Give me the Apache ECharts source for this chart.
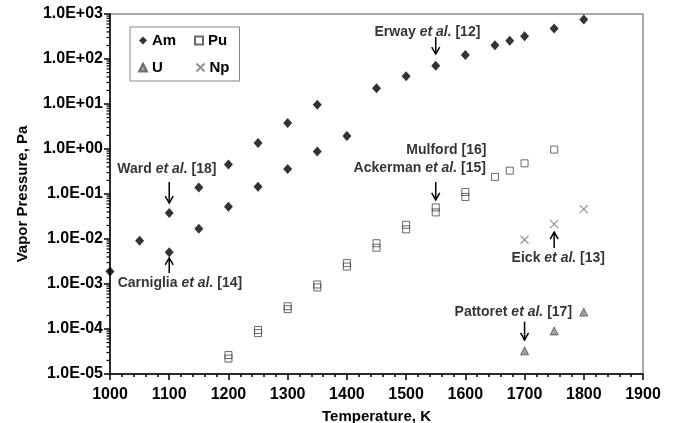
<!DOCTYPE html>
<html>
<head>
<meta charset="utf-8">
<script src="https://cdn.jsdelivr.net/npm/echarts@6/dist/echarts.min.js"></script>
<style>html,body{margin:0;padding:0;background:#fff}#c{width:674px;height:423px}</style>
</head>
<body>
<div id="c"></div>
<script>
// ---- data ----
const amT = [1000, 1050, 1100, 1100, 1150, 1150, 1200, 1200, 1250, 1250, 1300, 1300, 1350, 1350, 1400, 1450, 1500, 1550, 1600, 1650, 1675, 1700, 1750, 1800];
const amP = [1.9e-3, 9.1e-3, 0.038, 5.1e-3, 0.14, 0.017, 0.45, 0.052, 1.36, 0.145, 3.77, 0.36, 9.6, 0.88, 1.95, 22.3, 41.2, 71, 122, 203, 253, 321, 479, 750];
const puT = [1200, 1200, 1250, 1250, 1300, 1300, 1350, 1350, 1400, 1400, 1450, 1450, 1500, 1500, 1550, 1550, 1600, 1600, 1650, 1675, 1700, 1750];
const puP = [2.63e-5, 2.2e-5, 9.5e-5, 8.1e-5, 3.2e-4, 2.76e-4, 9.75e-4, 8.4e-4, 2.91e-3, 2.44e-3, 8.05e-3, 6.4e-3, 0.0207, 0.0164, 0.0504, 0.039, 0.111, 0.086, 0.24, 0.33, 0.48, 0.97];
const uT = [1700, 1750, 1800];
const uP = [3.27e-5, 9.06e-5, 2.38e-4];
const npT = [1700, 1750, 1800];
const npP = [9.6e-3, 0.0214, 0.046];

const xTicks = [1000, 1100, 1200, 1300, 1400, 1500, 1600, 1700, 1800, 1900];
const yTicks = [1e-5, 1e-4, 1e-3, 1e-2, 1e-1, 1, 10, 100, 1000];

// annotations (text positions in data space)
const annoText = ['Erway {i|et al.} [12]', 'Ward {i|et al.} [18]', 'Carniglia {i|et al.} [14]', 'Mulford [16]', 'Ackerman {i|et al.} [15]', 'Eick {i|et al.} [13]', 'Pattoret {i|et al.} [17]'];
const annoT = [1536, 1096, 1118, 1568, 1523, 1757, 1681];
const annoP = [398, 0.36, 1.05e-3, 0.95, 0.38, 3.8e-3, 2.4e-4];
// arrows
const arrowT = [1550, 1100, 1100, 1550, 1750, 1700];
const arrowFrom = [308, 0.185, 1.75e-3, 0.185, 6.3e-3, 1.45e-4];
const arrowTo = [129, 0.063, 3.8e-3, 0.0736, 0.0143, 5.7e-5];

// ---- build ----
const zip = (a, b) => a.map((v, i) => [v, b[i]]);
const minorVals = [];
for (let n = -5; n < 3; n++) for (let k = 2; k <= 9; k++) minorVals.push([1000, k * Math.pow(10, n)]);

function fmtE(v) {
  const e = Math.round(Math.log10(v));
  const s = e < 0 ? '-' : '+';
  const a = Math.abs(e);
  return '1.0E' + s + (a < 10 ? '0' + a : a);
}
const FONT = "'Liberation Sans', Arial, sans-serif";

const chart = echarts.init(document.getElementById('c'), null, {renderer: 'canvas'});
chart.setOption({
  animation: false,
  backgroundColor: '#fff',
  grid: {left: 110, right: 31, top: 14, bottom: 49, show: true, borderColor: '#555', borderWidth: 1,
    outerBoundsMode: 'none', containLabel: false},
  legend: {
    data: ['Am', 'Pu', 'U', 'Np'],
    left: 130, top: 27,
    width: 110,
    orient: 'horizontal',
    padding: [6, 0, 6, 8],
    itemGap: 12,
    itemWidth: 8, itemHeight: 8,
    borderColor: '#888', borderWidth: 1,
    formatter: name => '{a|' + name + '}',
    textStyle: {fontFamily: FONT, fontWeight: 'bold', fontSize: 15, color: '#000',
      rich: {a: {fontFamily: FONT, fontWeight: 'bold', fontSize: 15, color: '#000', width: 30, height: 14, lineHeight: 14}}},
    selectedMode: false
  },
  xAxis: {
    type: 'value', min: 1000, max: 1900, interval: 100,
    name: 'Temperature, K', nameLocation: 'middle', nameGap: 35,
    nameTextStyle: {fontFamily: FONT, fontWeight: 'bold', fontSize: 15, color: '#000'},
    axisLine: {lineStyle: {color: '#000', width: 1.5}},
    axisTick: {length: 6, lineStyle: {color: '#000', width: 1.5}},
    minorTick: {show: true, splitNumber: 5, length: 3, lineStyle: {color: '#000', width: 1.5}},
    splitLine: {show: false},
    axisLabel: {fontFamily: FONT, fontWeight: 'bold', fontSize: 16, color: '#000', margin: 13,
      formatter: v => xTicks.includes(v) ? String(v) : ''}
  },
  yAxis: {
    type: 'log', logBase: 10, min: 1e-5, max: 1e3, splitNumber: 8,
    name: 'Vapor Pressure, Pa', nameLocation: 'middle', nameGap: 80,
    nameTextStyle: {fontFamily: FONT, fontWeight: 'bold', fontSize: 15, color: '#000'},
    axisLine: {lineStyle: {color: '#000', width: 1.5}},
    axisTick: {length: 6, lineStyle: {color: '#000', width: 1.5}},
    splitLine: {show: false},
    axisLabel: {fontFamily: FONT, fontWeight: 'bold', fontSize: 16, color: '#000', margin: 7,
      formatter: v => fmtE(v)}
  },
  series: [
    {name: 'Am', type: 'scatter', data: zip(amT, amP), symbol: 'diamond', symbolSize: [9, 10],
      itemStyle: {color: '#000'}, z: 3},
    {name: 'Pu', type: 'scatter', data: zip(puT, puP), symbol: 'rect', symbolSize: 7,
      itemStyle: {color: 'rgba(255,255,255,0)', borderColor: '#444', borderWidth: 1}, z: 3},
    {name: 'U', type: 'scatter', data: zip(uT, uP), symbol: 'triangle', symbolSize: 8,
      itemStyle: {color: '#888', borderColor: '#555', borderWidth: 1}, z: 3},
    {name: 'Np', type: 'scatter', data: zip(npT, npP), symbol: 'path://M0,0L10,10M10,0L0,10', symbolSize: 8,
      itemStyle: {color: 'none', borderColor: '#777', borderWidth: 1.2}, z: 3},
    {type: 'scatter', data: annoT.map((t, i) => [t, annoP[i], annoText[i]]), symbolSize: 0, silent: true,
      label: {show: true, position: 'inside', formatter: p => p.data[2],
        fontFamily: FONT, fontWeight: 'bold', fontSize: 14, color: '#000',
        rich: {i: {fontFamily: FONT, fontWeight: 'bold', fontStyle: 'italic', fontSize: 14, color: '#000'}}}, z: 5},
    {type: 'custom', silent: true, clip: false, z: 5,
      data: arrowT.map((t, i) => [t, arrowFrom[i], arrowTo[i]]),
      renderItem: (params, api) => {
        const a = api.coord([api.value(0), api.value(1)]);
        const b = api.coord([api.value(0), api.value(2)]);
        const d = b[1] > a[1] ? -1 : 1;
        return {type: 'group', children: [
          {type: 'line', shape: {x1: a[0], y1: a[1], x2: b[0], y2: b[1]}, style: {stroke: '#000', lineWidth: 1.5}},
          {type: 'polyline', shape: {points: [[b[0] - 4, b[1] + d * 7], [b[0], b[1]], [b[0] + 4, b[1] + d * 7]]},
            style: {stroke: '#000', lineWidth: 1.5, fill: null}}
        ]};
      }},
    {type: 'custom', silent: true, clip: false, z: 4,
      data: minorVals,
      renderItem: (params, api) => {
        const p = api.coord([api.value(0), api.value(1)]);
        return {type: 'line', shape: {x1: p[0] - 3.5, y1: p[1], x2: p[0], y2: p[1]}, style: {stroke: '#000', lineWidth: 1.2}};
      }}
  ]
});
</script>
</body>
</html>
